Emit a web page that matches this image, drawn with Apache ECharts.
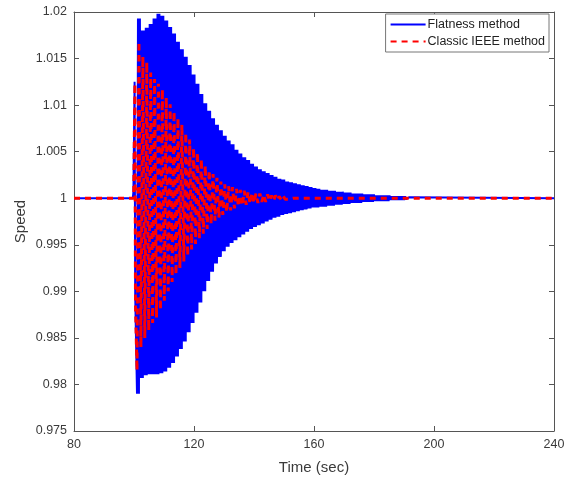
<!DOCTYPE html>
<html>
<head>
<meta charset="utf-8">
<script src="https://cdn.jsdelivr.net/npm/echarts@6/dist/echarts.min.js"></script>
<style>
html,body{margin:0;padding:0;background:#fff;}
#one{width:570px;height:477px;}
</style>
</head>
<body>
<div id="one"></div>
<script>
var flatName = 'Flatness method';
var classicName = 'Classic IEEE method';

// envelope is read in steps, each step starts at one of these times
var stepTimes = [101.0,102.3,103.6,104.9,106.2,107.5,108.8,110.1,111.4,112.7,114.0,115.3,116.6,117.9,119.2,120.5,121.8,123.1,124.4,125.7,127.0,128.3,129.6,130.9,132.2,133.5,134.8,136.1,137.4,138.7,140.0,141.3,142.6,143.9,145.2,146.5,147.8,149.1,150.4,151.7,153.0,154.3,155.6,156.9,158.2,159.5,160.8,162.1,163.4,164.7,166.0,167.3,168.6,169.9,171.2,172.5,173.8,175.1,176.4,177.7,179.0,180.3,181.6,182.9,184.2,185.5,186.8,188.1,189.4,190.7];
var stepLength = 1.3;

var flatHigh = [1.0193,1.0180,1.0183,1.0187,1.0193,1.0198,1.0196,1.0191,1.0184,1.0177,1.0168,1.0160,1.0152,1.0143,1.0133,1.0123,1.0112,1.0102,1.0094,1.0086,1.0079,1.0073,1.0067,1.0062,1.0058,1.0052,1.0048,1.0044,1.0041,1.0037,1.0034,1.0031,1.0029,1.0027,1.0025,1.0023,1.0021,1.0020,1.0018,1.0017,1.0016,1.0015,1.0014,1.0013,1.0012,1.0011,1.0010,1.0009,1.0009,1.0008,1.0008,1.0007,1.0007,1.0006,1.0006,1.0005,1.0005,1.0005,1.0004,1.0004,1.0004,1.0003,1.0003,1.0003,1.0003,1.0002,1.0002,1.0002,1.0002,1.0001];
var flatLow = [0.9790,0.9807,0.9810,0.9811,0.9811,0.9811,0.9812,0.9814,0.9818,0.9823,0.9830,0.9838,0.9846,0.9856,0.9866,0.9877,0.9888,0.9900,0.9911,0.9921,0.9930,0.9937,0.9943,0.9948,0.9952,0.9955,0.9958,0.9961,0.9964,0.9967,0.9969,0.9971,0.9973,0.9975,0.9977,0.9979,0.9980,0.9982,0.9983,0.9984,0.9985,0.9986,0.9987,0.9988,0.9989,0.9990,0.9990,0.9991,0.9991,0.9992,0.9992,0.9993,0.9993,0.9994,0.9994,0.9995,0.9995,0.9995,0.9996,0.9996,0.9996,0.9997,0.9997,0.9997,0.9997,0.9998,0.9998,0.9998,0.9998,0.9999];
var classicHigh = [1.0168,1.0152,1.0146,1.0135,1.0128,1.0123,1.0117,1.0108,1.0101,1.0093,1.0086,1.0079,1.0070,1.0063,1.0054,1.0049,1.0042,1.0035,1.0030,1.0026,1.0022,1.0018,1.0015,1.0013,1.0012,1.0010,1.0009,1.0008,1.0007,1.0006,1.0005,1.0005,1.0004,1.0004,1.0003,1.0003,1.0002,1.0002,1.0001,1.0001];
var classicLow = [0.9815,0.9840,0.9850,0.9858,0.9866,0.9872,0.9880,0.9890,0.9900,0.9910,0.9918,0.9925,0.9932,0.9938,0.9945,0.9951,0.9957,0.9962,0.9967,0.9972,0.9976,0.9979,0.9982,0.9985,0.9987,0.9989,0.9991,0.9992,0.9993,0.9994,0.9995,0.9995,0.9996,0.9996,0.9997,0.9997,0.9998,0.9998,0.9999,0.9999];

// steady part before the fault and first swing
var flatStartT = [80, 99.6, 99.8, 100.2, 100.4];
var flatStartV = [1, 1, 1.0007, 1.0125, 0.9896];
var classicStartT = [80, 99.9, 100.3, 100.5];
var classicStartV = [1, 1, 1.0123, 0.9885];
var endT = 240;
var endV = 1;

// swings = low/high pairs drawn inside each step
var buildLine = function (startT, startV, low, high, swings) {
    var pts = [];
    for (var i = 0; i < startT.length; i++) {
        pts.push([startT[i], startV[i]]);
    }
    var dt = stepLength / (2 * swings);
    for (var j = 0; j < low.length; j++) {
        for (var k = 0; k < swings; k++) {
            pts.push([stepTimes[j] + 2 * k * dt, low[j]]);
            pts.push([stepTimes[j] + (2 * k + 1) * dt, high[j]]);
        }
    }
    pts.push([stepTimes[low.length - 1] + stepLength, endV]);
    pts.push([endT, endV]);
    return pts;
};

var axisColor = '#555555';
var textColor = '#3a3a3a';
var fontName = '"Liberation Sans", Arial, sans-serif';
var axisLine = {show: true, onZero: false, lineStyle: {color: axisColor, width: 1}};
var tick = {show: true, inside: true, length: 5, lineStyle: {color: axisColor, width: 1}};

var chart = echarts.init(document.getElementById('one'), null, {renderer: 'canvas'});
var option = {
    animation: false,
    backgroundColor: '#ffffff',
    grid: {left: 74, top: 12, width: 480, height: 419, containLabel: false, outerBoundsMode: 'none'},
    legend: {
        right: 21,
        top: 14,
        orient: 'vertical',
        itemWidth: 35,
        itemHeight: 8,
        itemGap: 4,
        padding: [4, 4, 4, 4],
        borderColor: '#777777',
        borderWidth: 1,
        backgroundColor: '#ffffff',
        itemStyle: {opacity: 0},
        lineStyle: {width: 2},
        textStyle: {fontFamily: fontName, fontSize: 12.5, color: '#222222', padding: [0, 0, 0, -3]},
        data: [flatName, classicName]
    },
    xAxis: [{
        type: 'value',
        min: 80,
        max: 240,
        interval: 40,
        name: 'Time (sec)',
        nameLocation: 'middle',
        nameGap: 29,
        nameTextStyle: {fontFamily: fontName, fontSize: 15, color: textColor},
        axisLine: axisLine,
        axisTick: tick,
        splitLine: {show: false},
        axisLabel: {fontFamily: fontName, fontSize: 12.5, color: textColor, margin: 7}
    }, {
        type: 'value',
        position: 'top',
        min: 80,
        max: 240,
        interval: 40,
        axisLine: axisLine,
        axisTick: tick,
        axisLabel: {show: false},
        splitLine: {show: false}
    }],
    yAxis: [{
        type: 'value',
        min: 0.975,
        max: 1.02,
        interval: 0.005,
        name: 'Speed',
        nameLocation: 'middle',
        nameGap: 46,
        nameMoveOverlap: false,
        nameTextStyle: {fontFamily: fontName, fontSize: 15, color: textColor},
        axisLine: axisLine,
        axisTick: tick,
        splitLine: {show: false},
        axisLabel: {
            fontFamily: fontName,
            fontSize: 12.5,
            color: textColor,
            margin: 7,
            formatter: function (v) { return String(parseFloat(v.toFixed(3))); }
        }
    }, {
        type: 'value',
        position: 'right',
        min: 0.975,
        max: 1.02,
        interval: 0.005,
        axisLine: axisLine,
        axisTick: tick,
        axisLabel: {show: false},
        splitLine: {show: false}
    }],
    series: [{
        name: flatName,
        type: 'line',
        showSymbol: false,
        symbol: 'none',
        sampling: 'none',
        itemStyle: {color: '#0000ff'},
        lineStyle: {color: '#0000ff', width: 2, join: 'bevel'},
        data: buildLine(flatStartT, flatStartV, flatLow, flatHigh, 2),
        z: 2
    }, {
        name: classicName,
        type: 'line',
        showSymbol: false,
        symbol: 'none',
        sampling: 'none',
        itemStyle: {color: '#ff0000'},
        lineStyle: {color: '#ff0000', width: 3, type: [6, 5], join: 'bevel'},
        data: buildLine(classicStartT, classicStartV, classicLow, classicHigh, 1),
        z: 3
    }]
};
chart.setOption(option);
</script>
</body>
</html>
